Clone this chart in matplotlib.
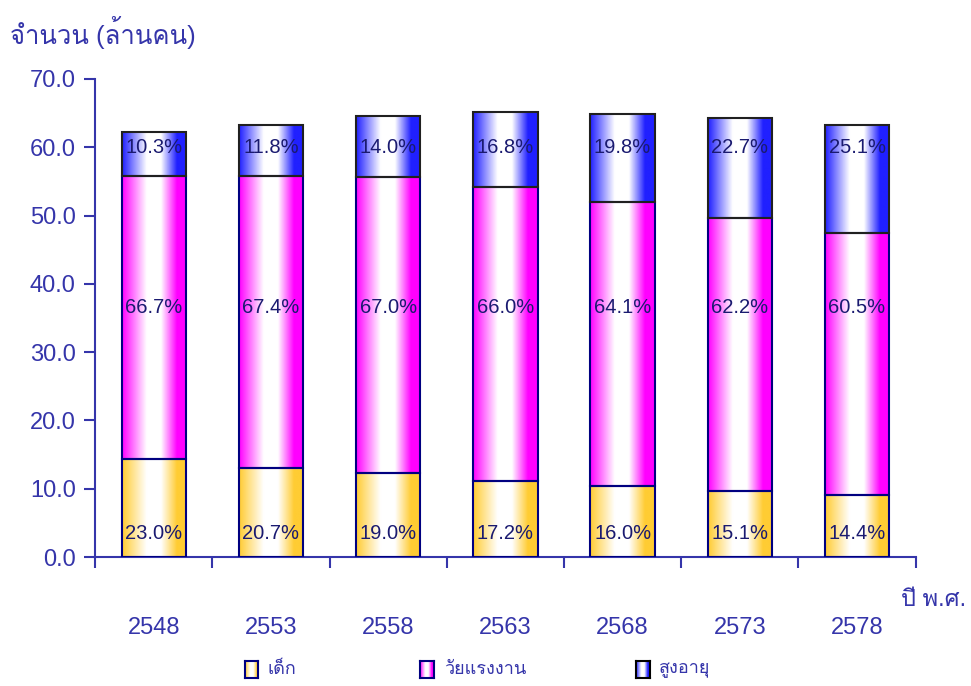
import numpy as np
import matplotlib
matplotlib.use("Agg")
import matplotlib.pyplot as plt
from matplotlib.colors import LinearSegmentedColormap

years = ["2548", "2553", "2558", "2563", "2568", "2573", "2578"]
children = [14.3, 13.1, 12.3, 11.2, 10.4, 9.7, 9.1]
working = [41.5, 42.7, 43.3, 43.0, 41.6, 40.0, 38.3]
elderly = [6.4, 7.5, 9.0, 11.0, 12.9, 14.6, 15.9]
pct_children = ["23.0%", "20.7%", "19.0%", "17.2%", "16.0%", "15.1%", "14.4%"]
pct_working = ["66.7%", "67.4%", "67.0%", "66.0%", "64.1%", "62.2%", "60.5%"]
pct_elderly = ["10.3%", "11.8%", "14.0%", "16.8%", "19.8%", "22.7%", "25.1%"]
legend_labels = ["เด็ก", "วัยแรงงาน", "สูงอายุ"]

navy = "#000080"
lab_col = "#1a1a70"
tick_col = "#3535aa"
colors = ["#ffcc33", "#ff00ff", "#2020ff"]

plt.rcParams["font.family"] = ["Liberation Sans", "Loma", "DejaVu Sans"]


def grad_cmap(c):
    # colour at edges, white in the middle
    return LinearSegmentedColormap.from_list(
        "g", [(0, c), (0.38, "white"), (0.6, "white"), (0.85, c), (1, c)])


profile = np.linspace(0, 1, 200).reshape(1, -1)

fig = plt.figure(figsize=(9.71, 6.86), dpi=100)
ax = fig.add_axes([0.098, 0.188, 0.845, 0.697])

w = 0.55
x = np.arange(len(years))
bottoms = np.zeros(len(years))
for vals, col in [(children, colors[0]), (working, colors[1]),
                  (elderly, colors[2])]:
    vals = np.array(vals)
    edge = "#202020" if col == colors[2] else navy
    for i in range(len(years)):
        b = bottoms[i]
        ax.imshow(profile, cmap=grad_cmap(col), aspect="auto",
                  extent=(x[i] - w / 2, x[i] + w / 2, b, b + vals[i]),
                  zorder=2)
        ax.bar(x[i], vals[i], w, bottom=b, facecolor="none",
               edgecolor=edge, linewidth=1.5, zorder=3)
    bottoms = bottoms + vals

for i in range(len(years)):
    ax.text(x[i], 3.4, pct_children[i], ha="center", va="center",
            fontsize=14.5, color=lab_col, zorder=4)
    ax.text(x[i], 36.5, pct_working[i], ha="center", va="center",
            fontsize=14.5, color=lab_col, zorder=4)
    ax.text(x[i], 60.0, pct_elderly[i], ha="center", va="center",
            fontsize=14.5, color=lab_col, zorder=4)

ax.set_xlim(-0.5, 6.5)
ax.set_ylim(0, 70)
ax.set_yticks(np.arange(0, 71, 10))
ax.set_yticklabels(["%.1f" % v for v in np.arange(0, 71, 10)])
ax.set_xticks(np.arange(-0.5, 7, 1))
ax.set_xticklabels([])
ax.set_xticks(x, minor=True)
ax.set_xticklabels(years, minor=True)
ax.tick_params(axis="x", which="minor", length=0, pad=43, labelsize=17,
               labelcolor=tick_col)
ax.tick_params(axis="x", which="major", length=8, color=tick_col,
               width=1.5)
ax.tick_params(axis="y", length=8, color=tick_col, width=1.5,
               labelsize=17, labelcolor=tick_col, pad=6)
for s in ["top", "right"]:
    ax.spines[s].set_visible(False)
for s in ["left", "bottom"]:
    ax.spines[s].set_color(tick_col)
    ax.spines[s].set_linewidth(1.5)

fig.text(0.010, 0.952, "จำนวน (ล้านคน)", fontsize=18.5, color=tick_col,
         va="center", ha="left")
fig.text(0.995, 0.125, "ปี พ.ศ.", fontsize=17, color=tick_col,
         va="center", ha="right")

# legend
leg_x = [0.252, 0.433, 0.655]
for lx, lab, col in zip(leg_x, legend_labels, colors):
    lax = fig.add_axes([lx, 0.012, 0.014, 0.024])
    lax.imshow(profile, cmap=grad_cmap(col), aspect="auto")
    lax.set_xticks([])
    lax.set_yticks([])
    for sp in lax.spines.values():
        sp.set_color("black" if col == colors[2] else navy)
        sp.set_linewidth(1.5)
    fig.text(lx + 0.024, 0.024, lab, fontsize=13, color=tick_col,
             va="center", ha="left")

fig.savefig("out.png", dpi=100)
